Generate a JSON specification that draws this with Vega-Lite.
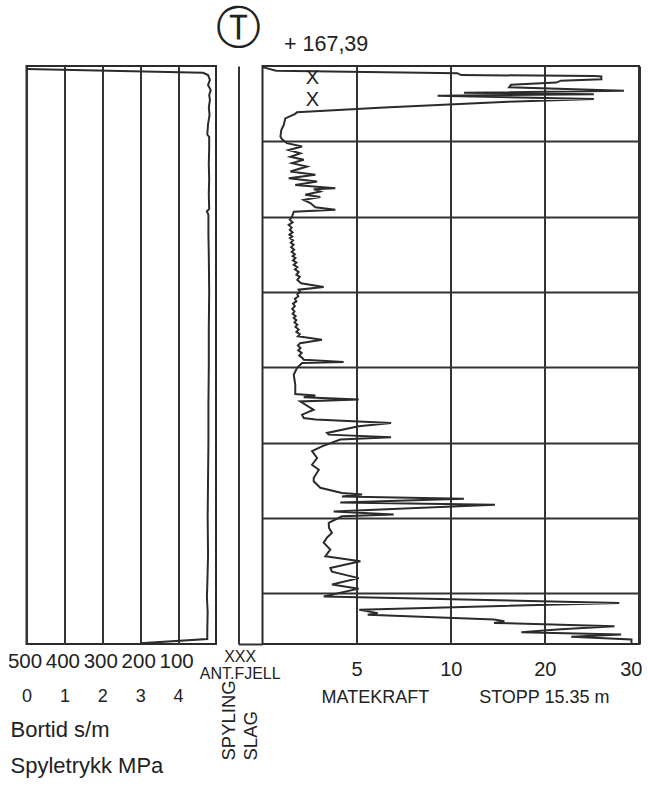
{
  "$schema": "https://vega.github.io/schema/vega-lite/v6.json",
  "padding": {"left": 5.5, "top": 7, "right": 5, "bottom": 5},
  "background": "white",
  "config": {
    "font": "Liberation Sans",
    "view": {"stroke": "#2b2b2b", "strokeWidth": 2},
    "axis": {
      "labelFont": "Liberation Sans", "titleFont": "Liberation Sans",
      "labelColor": "#222", "titleColor": "#222", "titleFontWeight": "normal",
      "gridColor": "#333", "gridOpacity": 1, "gridWidth": 2,
      "domainColor": "#333", "domainWidth": 2, "labelOverlap": false
    },
    "title": {"font": "Liberation Sans", "fontWeight": "normal", "color": "#222"}
  },
  "datasets": {
    "matekraft": [
      {"depth": 0.03, "matekraft": 0.0}, {"depth": 0.125, "matekraft": 0.72}, {"depth": 0.19, "matekraft": 10.7},
      {"depth": 0.24, "matekraft": 11.1}, {"depth": 0.265, "matekraft": 25.3}, {"depth": 0.28, "matekraft": 26.0},
      {"depth": 0.35, "matekraft": 26.0}, {"depth": 0.39, "matekraft": 21.7}, {"depth": 0.44, "matekraft": 21.2},
      {"depth": 0.5, "matekraft": 16.4}, {"depth": 0.565, "matekraft": 16.2}, {"depth": 0.655, "matekraft": 28.4},
      {"depth": 0.71, "matekraft": 11.4}, {"depth": 0.75, "matekraft": 25.2}, {"depth": 0.79, "matekraft": 9.3},
      {"depth": 0.875, "matekraft": 25.2}, {"depth": 0.95, "matekraft": 16.1}, {"depth": 1.105, "matekraft": 6.46},
      {"depth": 1.23, "matekraft": 1.83}, {"depth": 1.27, "matekraft": 1.74}, {"depth": 1.39, "matekraft": 1.21},
      {"depth": 1.565, "matekraft": 1.13}, {"depth": 1.7, "matekraft": 1.0}, {"depth": 1.875, "matekraft": 0.95},
      {"depth": 1.945, "matekraft": 1.04}, {"depth": 2.05, "matekraft": 1.3}, {"depth": 2.14, "matekraft": 2.1},
      {"depth": 2.23, "matekraft": 1.39}, {"depth": 2.32, "matekraft": 2.01}, {"depth": 2.41, "matekraft": 1.48},
      {"depth": 2.49, "matekraft": 2.19}, {"depth": 2.58, "matekraft": 1.57}, {"depth": 2.67, "matekraft": 2.36},
      {"depth": 2.8, "matekraft": 1.48}, {"depth": 2.89, "matekraft": 2.81}, {"depth": 2.98, "matekraft": 1.39},
      {"depth": 3.07, "matekraft": 2.9}, {"depth": 3.16, "matekraft": 1.74}, {"depth": 3.245, "matekraft": 3.87},
      {"depth": 3.27, "matekraft": 2.72}, {"depth": 3.335, "matekraft": 3.07}, {"depth": 3.42, "matekraft": 2.27},
      {"depth": 3.48, "matekraft": 3.07}, {"depth": 3.555, "matekraft": 2.19}, {"depth": 3.64, "matekraft": 2.54},
      {"depth": 3.75, "matekraft": 2.81}, {"depth": 3.82, "matekraft": 3.87}, {"depth": 3.87, "matekraft": 1.66},
      {"depth": 4.0, "matekraft": 1.57}, {"depth": 4.08, "matekraft": 1.45}, {"depth": 4.15, "matekraft": 1.6},
      {"depth": 4.22, "matekraft": 1.39}, {"depth": 4.29, "matekraft": 1.55}, {"depth": 4.35, "matekraft": 1.45},
      {"depth": 4.42, "matekraft": 1.6}, {"depth": 4.48, "matekraft": 1.43}, {"depth": 4.53, "matekraft": 1.58},
      {"depth": 4.57, "matekraft": 1.46}, {"depth": 4.63, "matekraft": 1.62}, {"depth": 4.69, "matekraft": 1.5},
      {"depth": 4.75, "matekraft": 1.65}, {"depth": 4.81, "matekraft": 1.52}, {"depth": 4.88, "matekraft": 1.68},
      {"depth": 4.94, "matekraft": 1.55}, {"depth": 5.0, "matekraft": 1.72}, {"depth": 5.05, "matekraft": 1.6},
      {"depth": 5.1, "matekraft": 1.75}, {"depth": 5.16, "matekraft": 1.62}, {"depth": 5.22, "matekraft": 1.8},
      {"depth": 5.28, "matekraft": 1.66}, {"depth": 5.34, "matekraft": 1.85}, {"depth": 5.4, "matekraft": 1.72},
      {"depth": 5.47, "matekraft": 1.92}, {"depth": 5.545, "matekraft": 1.8}, {"depth": 5.6, "matekraft": 1.98},
      {"depth": 5.68, "matekraft": 1.85}, {"depth": 5.77, "matekraft": 2.05}, {"depth": 5.87, "matekraft": 3.25},
      {"depth": 5.94, "matekraft": 1.92}, {"depth": 6.0, "matekraft": 2.0}, {"depth": 6.06, "matekraft": 1.85},
      {"depth": 6.12, "matekraft": 1.9}, {"depth": 6.18, "matekraft": 1.72}, {"depth": 6.25, "matekraft": 1.8},
      {"depth": 6.31, "matekraft": 1.62}, {"depth": 6.38, "matekraft": 1.72}, {"depth": 6.45, "matekraft": 1.58},
      {"depth": 6.52, "matekraft": 1.7}, {"depth": 6.58, "matekraft": 1.6}, {"depth": 6.64, "matekraft": 1.76},
      {"depth": 6.69, "matekraft": 1.66}, {"depth": 6.75, "matekraft": 1.8}, {"depth": 6.81, "matekraft": 1.7},
      {"depth": 6.87, "matekraft": 1.85}, {"depth": 6.93, "matekraft": 1.75}, {"depth": 7.0, "matekraft": 1.92},
      {"depth": 7.06, "matekraft": 1.8}, {"depth": 7.12, "matekraft": 1.98}, {"depth": 7.18, "matekraft": 1.88},
      {"depth": 7.27, "matekraft": 3.16}, {"depth": 7.36, "matekraft": 2.0}, {"depth": 7.42, "matekraft": 1.88},
      {"depth": 7.49, "matekraft": 2.02}, {"depth": 7.55, "matekraft": 1.9}, {"depth": 7.62, "matekraft": 2.08},
      {"depth": 7.69, "matekraft": 1.95}, {"depth": 7.755, "matekraft": 2.12}, {"depth": 7.8, "matekraft": 2.19},
      {"depth": 7.86, "matekraft": 4.31}, {"depth": 7.89, "matekraft": 2.1}, {"depth": 8.02, "matekraft": 1.83},
      {"depth": 8.2, "matekraft": 1.66}, {"depth": 8.46, "matekraft": 1.74}, {"depth": 8.71, "matekraft": 1.74},
      {"depth": 8.75, "matekraft": 2.81}, {"depth": 8.8, "matekraft": 2.19}, {"depth": 8.86, "matekraft": 5.11},
      {"depth": 8.91, "matekraft": 2.01}, {"depth": 9.13, "matekraft": 2.72}, {"depth": 9.26, "matekraft": 2.1},
      {"depth": 9.35, "matekraft": 2.19}, {"depth": 9.39, "matekraft": 2.81}, {"depth": 9.48, "matekraft": 6.83},
      {"depth": 9.57, "matekraft": 5.11}, {"depth": 9.745, "matekraft": 3.43}, {"depth": 9.79, "matekraft": 3.52},
      {"depth": 9.86, "matekraft": 6.83}, {"depth": 9.92, "matekraft": 4.13}, {"depth": 10.1, "matekraft": 3.16},
      {"depth": 10.23, "matekraft": 2.63}, {"depth": 10.41, "matekraft": 2.9}, {"depth": 10.59, "matekraft": 2.63},
      {"depth": 10.72, "matekraft": 2.99}, {"depth": 10.94, "matekraft": 2.72}, {"depth": 11.03, "matekraft": 2.72},
      {"depth": 11.2, "matekraft": 3.07}, {"depth": 11.34, "matekraft": 4.22}, {"depth": 11.38, "matekraft": 5.29},
      {"depth": 11.43, "matekraft": 4.22}, {"depth": 11.49, "matekraft": 11.4}, {"depth": 11.59, "matekraft": 4.13},
      {"depth": 11.65, "matekraft": 14.7}, {"depth": 11.83, "matekraft": 3.78}, {"depth": 11.91, "matekraft": 6.97},
      {"depth": 11.96, "matekraft": 4.22}, {"depth": 12.13, "matekraft": 3.52}, {"depth": 12.26, "matekraft": 3.53},
      {"depth": 12.4, "matekraft": 3.69}, {"depth": 12.52, "matekraft": 3.43}, {"depth": 12.66, "matekraft": 3.25},
      {"depth": 12.84, "matekraft": 3.6}, {"depth": 13.02, "matekraft": 3.34}, {"depth": 13.15, "matekraft": 5.2},
      {"depth": 13.33, "matekraft": 3.6}, {"depth": 13.43, "matekraft": 3.69}, {"depth": 13.6, "matekraft": 5.11},
      {"depth": 13.77, "matekraft": 3.69}, {"depth": 13.88, "matekraft": 5.11}, {"depth": 14.09, "matekraft": 3.25},
      {"depth": 14.26, "matekraft": 27.9}, {"depth": 14.44, "matekraft": 5.14}, {"depth": 14.53, "matekraft": 6.12},
      {"depth": 14.57, "matekraft": 5.59}, {"depth": 14.7, "matekraft": 14.6}, {"depth": 14.745, "matekraft": 15.7},
      {"depth": 14.79, "matekraft": 14.6}, {"depth": 14.88, "matekraft": 27.4}, {"depth": 14.96, "matekraft": 21.7},
      {"depth": 15.04, "matekraft": 17.5}, {"depth": 15.1, "matekraft": 28.1}, {"depth": 15.16, "matekraft": 22.8},
      {"depth": 15.23, "matekraft": 29.2}, {"depth": 15.33, "matekraft": 29.2}
    ],
    "bortid": [
      {"depth": 0.08, "bortid": 500}, {"depth": 0.18, "bortid": 34}, {"depth": 0.24, "bortid": 21},
      {"depth": 0.37, "bortid": 16}, {"depth": 0.5, "bortid": 21}, {"depth": 0.64, "bortid": 14},
      {"depth": 0.77, "bortid": 18}, {"depth": 0.9, "bortid": 16}, {"depth": 1.1, "bortid": 19},
      {"depth": 1.3, "bortid": 17}, {"depth": 1.55, "bortid": 21}, {"depth": 1.82, "bortid": 23},
      {"depth": 1.88, "bortid": 18}, {"depth": 2.2, "bortid": 18}, {"depth": 2.6, "bortid": 19},
      {"depth": 3.0, "bortid": 18}, {"depth": 3.4, "bortid": 19}, {"depth": 3.8, "bortid": 18},
      {"depth": 3.86, "bortid": 24}, {"depth": 3.95, "bortid": 20}, {"depth": 4.5, "bortid": 20},
      {"depth": 5.0, "bortid": 19}, {"depth": 6.0, "bortid": 18}, {"depth": 7.0, "bortid": 19},
      {"depth": 8.0, "bortid": 19}, {"depth": 9.0, "bortid": 20}, {"depth": 10.0, "bortid": 20},
      {"depth": 11.0, "bortid": 21}, {"depth": 12.0, "bortid": 22}, {"depth": 13.0, "bortid": 21},
      {"depth": 13.8, "bortid": 23}, {"depth": 14.1, "bortid": 24}, {"depth": 14.5, "bortid": 22},
      {"depth": 15.0, "bortid": 23}, {"depth": 15.22, "bortid": 23}, {"depth": 15.33, "bortid": 200}
    ],
    "markers": [
      {"depth": 0.318, "matekraft": 2.65, "label": "X"},
      {"depth": 0.902, "matekraft": 2.65, "label": "X"}
    ]
  },
  "spacing": 22,
  "bounds": "flush",
  "hconcat": [
    {
      "width": 189.5,
      "height": 578,
      "layer": [
        {
          "data": {"name": "bortid"},
          "mark": {"type": "line", "color": "#2b2b2b", "strokeWidth": 2, "clip": true},
          "encoding": {
            "x": {
              "field": "bortid", "type": "quantitative",
              "scale": {"domain": [500, 0], "nice": false, "zero": false},
              "axis": {
                "orient": "bottom", "values": [500, 400, 300, 200, 100],
                "grid": true, "ticks": false, "domain": false, "labelFlush": false,
                "labelFontSize": 20.5, "labelPadding": 7, "labelOffset": -2,
                "title": ["Bortid s/m", "Spyletrykk MPa"],
                "titleFontSize": 22, "titleLineHeight": 36,
                "titleAlign": "left", "titleBaseline": "top",
                "titleX": -16.5, "titleY": 75.5
              }
            },
            "y": {
              "field": "depth", "type": "quantitative",
              "scale": {"domain": [0, 15.35], "reverse": true, "nice": false, "zero": false},
              "axis": null
            },
            "order": {"field": "depth"}
          }
        },
        {
          "data": {"values": [{"spyletrykk": 0}]},
          "mark": {"type": "point", "opacity": 0},
          "encoding": {
            "x": {
              "field": "spyletrykk", "type": "quantitative",
              "scale": {"domain": [0, 5], "nice": false},
              "axis": {
                "orient": "bottom", "values": [0, 1, 2, 3, 4],
                "grid": false, "ticks": false, "domain": false, "labelFlush": false,
                "labelFontSize": 18, "labelPadding": 3.5, "offset": 40, "title": null
              }
            }
          }
        }
      ],
      "resolve": {"scale": {"x": "independent"}, "axis": {"x": "independent"}}
    },
    {
      "spacing": 0,
      "bounds": "flush",
      "hconcat": [
        {
          "width": 23.5,
          "height": 578,
          "view": {"stroke": null},
          "title": {"text": "Ⓣ", "anchor": "start", "align": "center", "frame": "group", "fontSize": 45, "dx": 0, "offset": 14, "font": "DejaVu Sans"},
          "data": {"values": [{"k": 0}]},
          "mark": {"type": "point", "opacity": 0},
          "encoding": {
            "x": {
              "field": "k", "type": "quantitative",
              "scale": {"domain": [0, 1], "nice": false},
              "axis": {
                "orient": "bottom", "values": [0.05], "grid": false, "ticks": false, "domain": true, "labelFlush": false,
                "labelExpr": "['XXX', 'ANT.FJELL']", "labelFontSize": 16, "labelLineHeight": 17,
                "labelPadding": 4,
                "title": ["SPYLING", "SLAG"], "titleAngle": 270, "titleAlign": "left",
                "titleBaseline": "middle", "titleX": -10, "titleY": 116,
                "titleFontSize": 18.5, "titleLineHeight": 21.7
              }
            },
            "y": {
              "field": "k", "type": "quantitative",
              "scale": {"domain": [0, 1], "nice": false},
              "axis": {"orient": "left", "domain": true, "ticks": false, "labels": false, "grid": false, "title": null}
            }
          }
        },
        {
          "width": 376.5,
          "height": 578,
          "title": {"text": "+ 167,39", "anchor": "start", "frame": "group", "dx": 21.5, "fontSize": 21.5, "offset": 11},
          "layer": [
            {
              "data": {"name": "matekraft"},
              "mark": {"type": "line", "color": "#2b2b2b", "strokeWidth": 2, "clip": true},
              "encoding": {
                "x": {
                  "field": "matekraft", "type": "quantitative",
                  "scale": {"domain": [0, 5, 10, 20, 30], "range": [0, 94.125, 188.25, 282.375, 376.5], "nice": false, "zero": false},
                  "axis": {
                    "values": [5, 10, 20, 30], "grid": true, "ticks": false, "domain": false,
                    "labelFontSize": 20, "labelPadding": 15, "labelFlush": true, "labelFlushOffset": 3,
                    "title": "MATEKRAFT\u00a0\u00a0\u00a0\u00a0\u00a0\u00a0\u00a0\u00a0\u00a0\u00a0STOPP 15.35 m",
                    "titleFontSize": 18, "titleAlign": "left", "titleBaseline": "top",
                    "titleX": 58.5, "titleY": 44.5
                  }
                },
                "y": {
                  "field": "depth", "type": "quantitative",
                  "scale": {"domain": [0, 15.35], "reverse": true, "nice": false, "zero": false},
                  "axis": {"values": [2, 4, 6, 8, 10, 12, 14], "grid": true, "ticks": false, "labels": false, "domain": false, "title": null}
                },
                "order": {"field": "depth"}
              }
            },
            {
              "data": {"name": "markers"},
              "mark": {"type": "text", "fontSize": 20, "color": "#222", "font": "Liberation Sans"},
              "encoding": {
                "x": {"field": "matekraft", "type": "quantitative"},
                "y": {"field": "depth", "type": "quantitative"},
                "text": {"field": "label"}
              }
            }
          ]
        }
      ]
    }
  ]
}
